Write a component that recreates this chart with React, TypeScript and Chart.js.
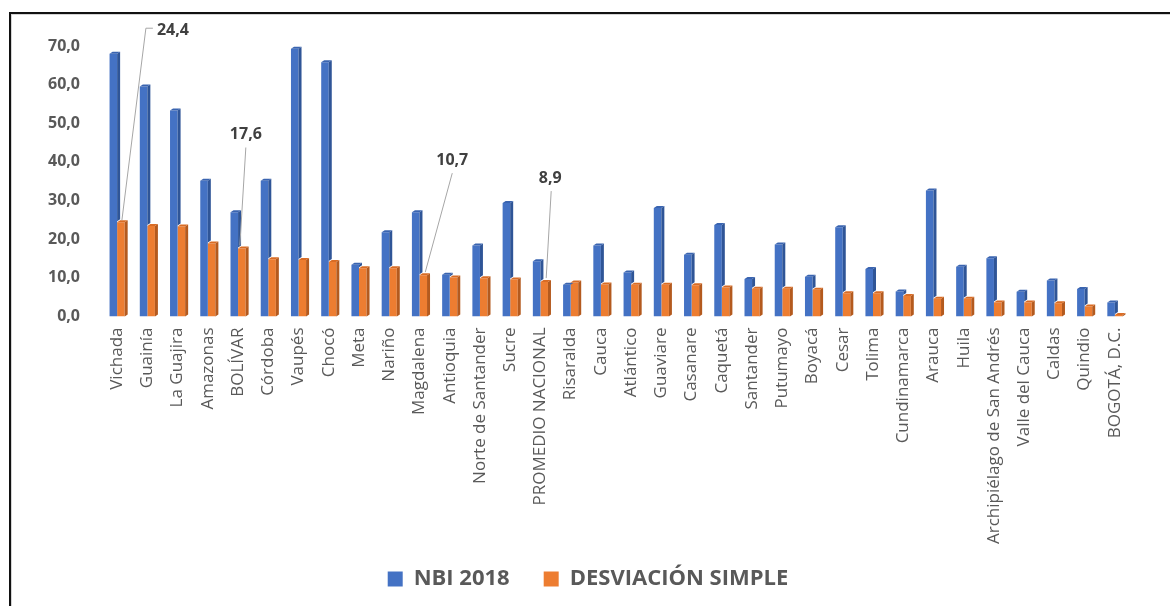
import React, { useEffect, useRef } from "react";
import { Chart, registerables } from "chart.js";

Chart.register(...registerables);

// ---------- DATA ----------
const categories = [
  "Vichada", "Guainía", "La Guajira", "Amazonas", "BOLÍVAR", "Córdoba", "Vaupés", "Chocó",
  "Meta", "Nariño", "Magdalena", "Antioquia", "Norte de Santander", "Sucre", "PROMEDIO NACIONAL",
  "Risaralda", "Cauca", "Atlántico", "Guaviare", "Casanare", "Caquetá", "Santander", "Putumayo",
  "Boyacá", "Cesar", "Tolima", "Cundinamarca", "Arauca", "Huila", "Archipiélago de San Andrés",
  "Valle del Cauca", "Caldas", "Quindio", "BOGOTÁ, D.C.",
];

const nbi2018 = [
  68.0, 59.5, 53.3, 35.1, 27.0, 35.1, 69.3, 65.8,
  13.4, 21.8, 27.0, 10.8, 18.4, 29.4, 14.3,
  8.2, 18.4, 11.4, 28.1, 16.0, 23.7, 9.7, 18.6,
  10.3, 23.1, 12.3, 6.5, 32.6, 12.9, 15.1,
  6.4, 9.3, 7.1, 3.6,
];

const desviacionSimple = [
  24.4, 23.4, 23.3, 18.9, 17.6, 14.8, 14.6, 14.1,
  12.5, 12.5, 10.7, 10.1, 9.9, 9.6, 8.9,
  8.8, 8.3, 8.2, 8.2, 8.1, 7.5, 7.2, 7.2,
  6.9, 6.0, 6.0, 5.3, 4.6, 4.6, 3.6,
  3.6, 3.4, 2.6, 0.4,
];

const seriesNames = ["NBI 2018", "DESVIACIÓN SIMPLE"];
const yMin = 0;
const yMax = 70;
const yStep = 10;

// indices of the orange bars that carry a data callout
const calloutIndices = [0, 4, 10, 14];

// ---------- STYLE ----------
const FONT = "'Open Sans', 'Liberation Sans', sans-serif";
const TEXT = "#595959";
const BLUE = "#4472C4";
const BLUE_SIDE = "#2F5597";
const BLUE_TOP = "#3A64B0";
const ORANGE = "#ED7D31";
const ORANGE_SIDE = "#B45A1E";
const ORANGE_TOP = "#D96C25";

// callout placement relative to the bar top (label centre, leader polyline)
const calloutStyle = [
  { dx: 52, dy: -192, line: [[1, -2], [25, -194], [32, -194]] },
  { dx: 4, dy: -114, line: [[4, -101], [-2, -3]] },
  { dx: 29, dy: -115, line: [[29, -102], [2, -3]] },
  { dx: 6, dy: -104, line: [[7, -91], [2, -4]] },
];

const fmt = (v: number) => v.toFixed(1).replace(".", ",");

const D_X = 3;
const D_Y = 2;

function drawBox3d(ctx: any, l: number, r: number, y: number, bottom: number, side: string, topC: string) {
  if (bottom > y) {
    ctx.fillStyle = side;
    ctx.beginPath();
    ctx.moveTo(r, y);
    ctx.lineTo(r + D_X, y - D_Y);
    ctx.lineTo(r + D_X, bottom - D_Y);
    ctx.lineTo(r, bottom);
    ctx.closePath();
    ctx.fill();
  }
  ctx.fillStyle = topC;
  ctx.beginPath();
  ctx.moveTo(l, y);
  ctx.lineTo(l + D_X, y - D_Y);
  ctx.lineTo(r + D_X, y - D_Y);
  ctx.lineTo(r, y);
  ctx.closePath();
  ctx.fill();
}

const bar3dPlugin = {
  id: "bar3d",
  afterDatasetsDraw(chart: any) {
    const ctx = chart.ctx;
    const mb = chart.getDatasetMeta(0);
    const mo = chart.getDatasetMeta(1);
    ctx.save();
    mb.data.forEach((el: any, i: number) => {
      const { x, y, base, width } = el.getProps(["x", "y", "base", "width"], true);
      const o = mo.data[i];
      let bottom = base;
      if (o) {
        const oy = o.getProps(["y"], true).y;
        bottom = Math.min(base, oy - D_Y + 1);
      }
      drawBox3d(ctx, x - width / 2, x + width / 2, y, bottom, BLUE_SIDE, BLUE_TOP);
    });
    mo.data.forEach((el: any) => {
      const { x, y, base, width } = el.getProps(["x", "y", "base", "width"], true);
      drawBox3d(ctx, x - width / 2, x + width / 2, y, base, ORANGE_SIDE, ORANGE_TOP);
    });
    ctx.restore();
  },
};

const calloutPlugin = {
  id: "callouts",
  afterDraw(chart: any) {
    const ctx = chart.ctx;
    const meta = chart.getDatasetMeta(1);
    ctx.save();
    calloutIndices.forEach((i, k) => {
      const el = meta.data[i];
      if (!el) return;
      const { x, y } = el.getProps(["x", "y"], true);
      const st = calloutStyle[k];
      ctx.strokeStyle = "#A6A6A6";
      ctx.lineWidth = 1;
      ctx.beginPath();
      st.line.forEach((p, j) => {
        if (j === 0) ctx.moveTo(x + p[0], y + p[1]);
        else ctx.lineTo(x + p[0], y + p[1]);
      });
      ctx.stroke();
      ctx.fillStyle = "#404040";
      ctx.font = `bold 16px ${FONT}`;
      ctx.textAlign = "center";
      ctx.textBaseline = "middle";
      ctx.fillText(fmt(desviacionSimple[i]), x + st.dx, y + st.dy);
    });
    ctx.restore();
  },
};

export default function App() {
  const canvasRef = useRef<HTMLCanvasElement | null>(null);

  useEffect(() => {
    if (!canvasRef.current) return;
    const chart = new Chart(canvasRef.current, {
      type: "bar",
      data: {
        labels: categories,
        datasets: [
          {
            label: seriesNames[0],
            data: nbi2018,
            backgroundColor: BLUE,
            borderWidth: 0,
            categoryPercentage: 0.5,
            barPercentage: 1.0,
          },
          {
            label: seriesNames[1],
            data: desviacionSimple,
            backgroundColor: ORANGE,
            borderWidth: 0,
            categoryPercentage: 0.5,
            barPercentage: 1.0,
          },
        ],
      },
      options: {
        animation: false,
        responsive: true,
        maintainAspectRatio: false,
        layout: { padding: { left: 46, right: 40, top: 46, bottom: 6 } },
        plugins: {
          tooltip: { enabled: false },
          legend: {
            position: "bottom",
            labels: {
              boxWidth: 15,
              boxHeight: 15,
              padding: 34,
              color: TEXT,
              font: { family: FONT, size: 22, weight: "bold" },
            },
          },
        },
        scales: {
          x: {
            grid: { display: false, drawTicks: false },
            border: { display: false },
            ticks: {
              autoSkip: false,
              minRotation: 90,
              maxRotation: 90,
              padding: 11,
              color: TEXT,
              font: { family: FONT, size: 17 },
            },
            afterFit: (scale: any) => {
              scale.height = 217.5;
              // let the long rotated labels run past the axis box
              scale._computeLabelArea = () => undefined;
            },
          },
          y: {
            min: yMin,
            max: yMax,
            grid: { display: false, drawTicks: false },
            border: { display: false },
            ticks: {
              stepSize: yStep,
              padding: 22,
              color: TEXT,
              font: { family: FONT, size: 16, weight: "bold" },
              callback: (v: any) => fmt(Number(v)),
            },
            afterFit: (scale: any) => {
              scale.width = 56;
            },
          },
        },
      },
      plugins: [bar3dPlugin, calloutPlugin],
    });
    return () => chart.destroy();
  }, []);

  return (
    <div style={{ position: "fixed", left: 0, top: 0, width: 1170, height: 606, background: "#fff", overflow: "hidden" }}>
      <div
        style={{
          position: "absolute",
          left: 9,
          top: 12,
          width: 1300,
          height: 700,
          borderTop: "2px solid #111",
          borderLeft: "2px solid #111",
          boxShadow: "inset 1px 1px 0 #d4d4d4",
        }}
      />
      <div style={{ position: "absolute", left: 0, top: 0, width: 1170, height: 606 }}>
        <canvas ref={canvasRef} />
      </div>
    </div>
  );
}
